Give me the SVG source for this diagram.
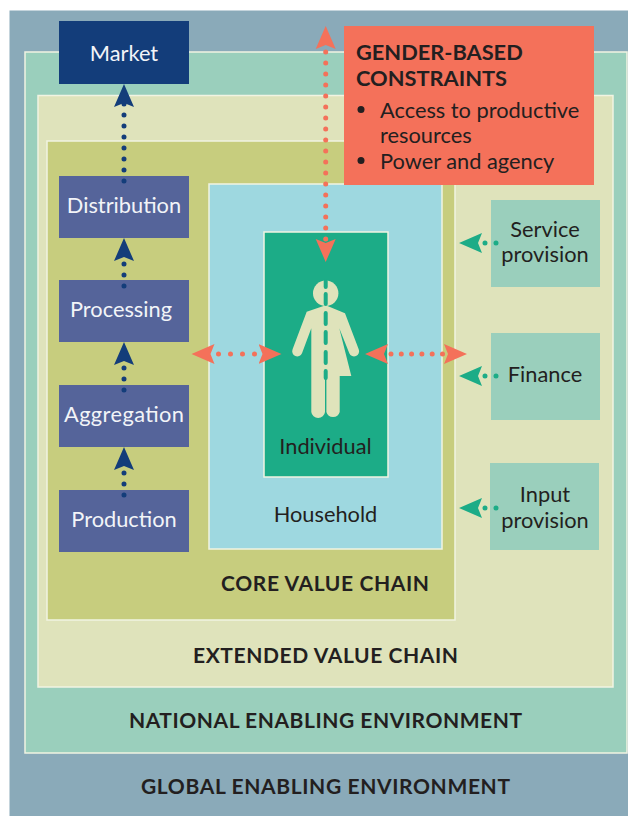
<svg xmlns="http://www.w3.org/2000/svg" width="628" height="816" viewBox="0 0 628 816">
<style>
text{font-family:"Lato","Open Sans","Liberation Sans",sans-serif;fill:#231f20;text-anchor:middle}
.zone{stroke:#f1f4e2;stroke-width:1.5}
.t{font-size:21.8px}
.w{fill:#f2f4f8}
.h{font-size:21px;font-weight:700}
.g{font-size:21.8px;font-weight:700;text-anchor:start}
.l{font-size:21.8px;text-anchor:start}
.stage{fill:#55649a}
.svc{fill:#9acfbc}
.dot{fill:none;stroke-width:5;stroke-linecap:round;stroke-dasharray:0 11}
.blue{stroke:#133d7a}.red{stroke:#f4715a}.grn{stroke:#1cac87}
</style>
<defs>
<marker id="mb" markerUnits="userSpaceOnUse" markerWidth="24" markerHeight="22" refX="23" refY="10" orient="auto-start-reverse" viewBox="0 0 24 20"><path d="M23 10L0 0L4 10L0 20Z" fill="#133d7a"/></marker>
<marker id="mr" markerUnits="userSpaceOnUse" markerWidth="24" markerHeight="22" refX="23" refY="10" orient="auto-start-reverse" viewBox="0 0 24 20"><path d="M23 10L0 0L4 10L0 20Z" fill="#f4715a"/></marker>
<marker id="mg" markerUnits="userSpaceOnUse" markerWidth="24" markerHeight="22" refX="23" refY="10" orient="auto-start-reverse" viewBox="0 0 24 20"><path d="M23 10L0 0L4 10L0 20Z" fill="#1cac87"/></marker>
</defs>
<rect x="9.5" y="10.5" width="619" height="806" fill="#8aaab9"/>
<g id="national"><rect class="zone" x="25" y="52" width="602" height="701" fill="#9acfbc"/><text class="h" x="325.5" y="728" textLength="393">NATIONAL ENABLING ENVIRONMENT</text></g>
<g id="global"><text class="h" x="325.5" y="794" textLength="369">GLOBAL ENABLING ENVIRONMENT</text></g>
<g id="extended"><rect class="zone" x="38" y="95.5" width="575" height="591.5" fill="#dfe3bb"/><text class="h" x="325.5" y="663" textLength="265">EXTENDED VALUE CHAIN</text></g>
<g id="core"><rect class="zone" x="47" y="141" width="408" height="479" fill="#c7cd7e"/><text class="h" x="325" y="591" textLength="208">CORE VALUE CHAIN</text></g>
<g id="household"><rect class="zone" x="209" y="184" width="233" height="365" fill="#9ed8e0"/><text class="t" x="325.5" y="522">Household</text></g>
<g id="individual"><rect class="zone" x="264" y="232" width="124" height="245" fill="#1cac87"/><text class="t" x="325.5" y="454">Individual</text>
<circle cx="325.7" cy="293.3" r="12.7" fill="#dfe3bb"/>
<path d="M325.7 305.3L306.7 311.7L292.6 349.3A5 5 0 0 0 302 353.3L311.3 328.3V412A6.9 6.9 0 0 0 325 412V376H326.4V412A6.9 6.9 0 0 0 339.7 412V376H351.3L339.3 328.3L349.3 353.3A5 5 0 0 0 358.7 349.3L345 313.3Z" fill="#dfe3bb"/>
<path d="M325.7 281V287M325.7 294V304M325.7 313V324M325.7 332V343M325.7 352V363M325.7 371V378" fill="none" stroke="#1cac87" stroke-width="4" stroke-linecap="round"/>
</g>
<g id="market"><rect x="59" y="21" width="130" height="63" fill="#133d7a"/><text class="t w" x="124" y="61">Market</text></g>
<g id="distribution"><rect class="stage" x="59" y="176" width="130" height="62"/><text class="t w" x="124" y="213">Distribution</text></g>
<g id="processing"><rect class="stage" x="59" y="280" width="130" height="62"/><text class="t w" x="121" y="317">Processing</text></g>
<g id="aggregation"><rect class="stage" x="59" y="385" width="130" height="62"/><text class="t w" x="124" y="422" textLength="120">Aggregation</text></g>
<g id="production"><rect class="stage" x="59" y="490" width="130" height="62"/><text class="t w" x="124" y="527">Production</text></g>
<g id="service"><rect class="svc" x="491" y="200" width="109" height="87"/><text class="t" x="545" y="237">Service</text><text class="t" x="545" y="262">provision</text></g>
<g id="finance"><rect class="svc" x="491" y="333" width="109" height="87"/><text class="t" x="545" y="382">Finance</text></g>
<g id="input"><rect class="svc" x="490" y="463" width="109" height="87"/><text class="t" x="545" y="502">Input</text><text class="t" x="545" y="528">provision</text></g>
<g id="connectors">
<path class="dot blue" d="M124 181V103"/><path d="M124 107V84" marker-end="url(#mb)" fill="none"/>
<path class="dot blue" d="M124 286V262"/><path d="M124 262V238" marker-end="url(#mb)" fill="none"/>
<path class="dot blue" d="M124 390V366"/><path d="M124 366V342" marker-end="url(#mb)" fill="none"/>
<path class="dot blue" d="M124 495V471"/><path d="M124 471V447" marker-end="url(#mb)" fill="none"/>
<path class="dot red" d="M325.7 52V241"/><path d="M325.7 50V26" marker-end="url(#mr)" fill="none"/><path d="M325.7 238V262" marker-end="url(#mr)" fill="none"/>
<path class="dot red" style="stroke-dasharray:0 12" d="M218.5 354H256"/><path d="M215 354H191.5" marker-end="url(#mr)" fill="none"/><path d="M258 354H281.5" marker-end="url(#mr)" fill="none"/>
<path class="dot red" style="stroke-dasharray:0 10.3" d="M391 354H444"/><path d="M388 354H365" marker-end="url(#mr)" fill="none"/><path d="M444 354H467" marker-end="url(#mr)" fill="none"/>
<path class="dot grn" d="M496 243H484"/><path d="M482 243H459" marker-end="url(#mg)" fill="none"/>
<path class="dot grn" d="M496 376H484"/><path d="M482 376H459" marker-end="url(#mg)" fill="none"/>
<path class="dot grn" d="M496 508H484"/><path d="M482 508H459" marker-end="url(#mg)" fill="none"/>
</g>
<g id="constraints"><rect x="344" y="26" width="250" height="159" fill="#f4715a"/>
<text class="g" x="356" y="60">GENDER-BASED</text><text class="g" x="356" y="86">CONSTRAINTS</text>
<circle cx="361" cy="109.5" r="3.5" fill="#231f20"/><circle cx="361" cy="160.5" r="3.5" fill="#231f20"/>
<text class="l" x="380" y="118">Access to productive</text><text class="l" x="380" y="143">resources</text><text class="l" x="380" y="169">Power and agency</text></g>
</svg>
